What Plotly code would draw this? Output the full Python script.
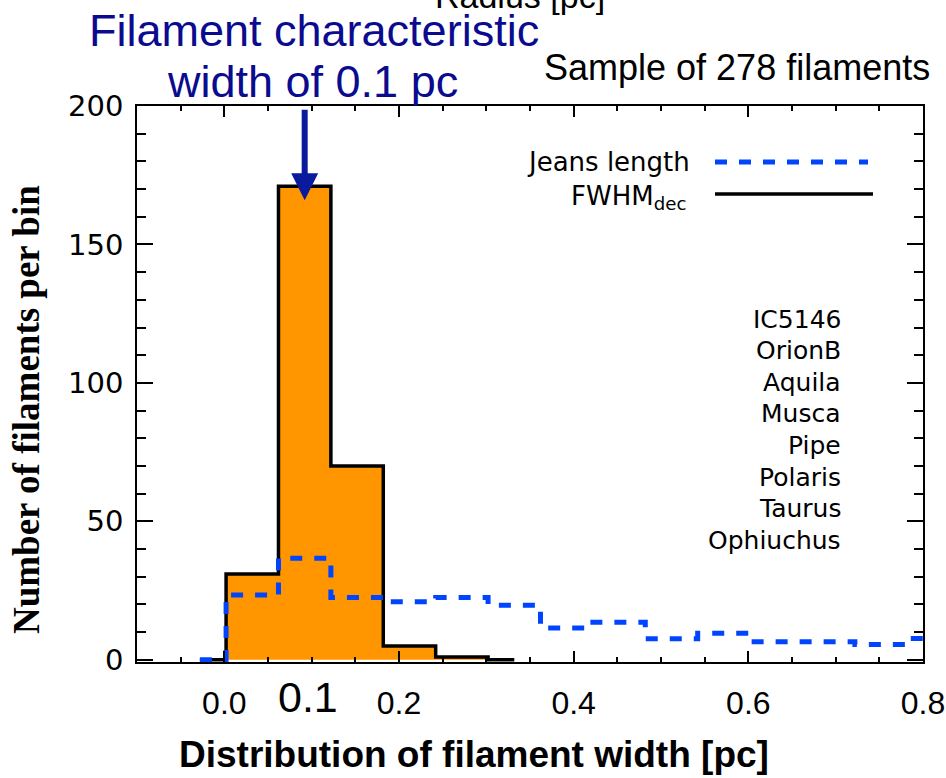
import plotly.graph_objects as go

# ---- data ----
fwhm_centers = [-0.028, 0.032, 0.092, 0.152, 0.212, 0.272, 0.332]
fwhm_counts = [0, 31, 171, 70, 5, 1, 0]

jeans_centers = [-0.028, 0.032, 0.092, 0.152, 0.212, 0.272, 0.332, 0.392,
                 0.452, 0.512, 0.572, 0.632, 0.692, 0.752, 0.812]
jeans_counts = [0, 23.4, 36.7, 22.5, 21.0, 22.5, 19.7, 11.5,
                13.6, 7.6, 9.6, 6.5, 6.5, 5.5, 7.7]

regions = ["IC5146", "OrionB", "Aquila", "Musca", "Pipe", "Polaris", "Taurus", "Ophiuchus"]
x_tick_vals = [0.0, 0.2, 0.4, 0.6, 0.8]
x_tick_text = ["0.0", "0.2", "0.4", "0.6", "0.8"]
y_tick_vals = [0, 50, 100, 150, 200]
peak_width = 0.1

ORANGE = "#FF9600"
BLUE = "#0044FF"
NAVY = "#0B0B8F"
ARROW = "#0A1A9C"

# plot area geometry (pixels) used for paper placement of texts
L, R, T, B = 137, 923, 106, 662
W, H = R - L, B - T


def px(xp):
    return (xp - L) / W


def py(yp):
    return (B - yp) / H


fig = go.Figure()

fig.add_trace(go.Scatter(
    x=fwhm_centers, y=fwhm_counts, mode="lines", line_shape="hvh",
    fill="tozeroy", fillcolor=ORANGE,
    line=dict(color="black", width=3.5), showlegend=False, hoverinfo="skip"))

fig.add_trace(go.Scatter(
    x=jeans_centers, y=jeans_counts, mode="lines", line_shape="hvh",
    line=dict(color=BLUE, width=5, dash="12px,12px"), showlegend=False,
    hoverinfo="skip"))

annotations = []
# titles
annotations.append(dict(text="Filament characteristic", xref="paper", yref="paper",
                        x=px(314), y=py(31), xanchor="center", yanchor="middle",
                        showarrow=False, font=dict(family="Liberation Sans", size=45, color=NAVY)))
annotations.append(dict(text="width of 0.1 pc", xref="paper", yref="paper",
                        x=px(312), y=py(81), xanchor="center", yanchor="middle",
                        showarrow=False, font=dict(family="Liberation Sans", size=45, color=NAVY)))
annotations.append(dict(text="Sample of 278 filaments", xref="paper", yref="paper",
                        x=px(737), y=py(67), xanchor="center", yanchor="middle",
                        showarrow=False, font=dict(family="Liberation Sans", size=36, color="black")))
annotations.append(dict(text="Radius [pc]", xref="paper", yref="paper",
                        x=px(433), y=py(-4), xanchor="left", yanchor="middle",
                        showarrow=False, font=dict(family="Liberation Sans", size=34, color="black")))
# arrow
annotations.append(dict(text="", x=0.092, y=166, xref="x", yref="y",
                        showarrow=True, ax=0, ay=-92, arrowhead=2, arrowsize=0.9,
                        arrowwidth=6, arrowcolor=ARROW, standoff=0))
# big 0.1 label
annotations.append(dict(text="0.1", xref="x", yref="paper", x=peak_width - 0.004, y=py(697),
                        xanchor="center", yanchor="middle", showarrow=False,
                        font=dict(family="Liberation Sans", size=43, color="black")))
# legend texts
annotations.append(dict(text="Jeans length", xref="paper", yref="paper",
                        x=px(692), y=py(162), xanchor="right", yanchor="middle",
                        showarrow=False, font=dict(family="DejaVu Sans", size=26, color="black")))
annotations.append(dict(text="FWHM<sub>dec</sub>", xref="paper", yref="paper",
                        x=px(688), y=py(197), xanchor="right", yanchor="middle",
                        showarrow=False, font=dict(family="DejaVu Sans", size=26, color="black")))
# region names
for i, name in enumerate(regions):
    annotations.append(dict(text=name, xref="paper", yref="paper",
                            x=px(843), y=py(319 + 31.6 * i), xanchor="right", yanchor="middle",
                            showarrow=False, font=dict(family="DejaVu Sans", size=25, color="black")))
# axis titles
annotations.append(dict(text="<b>Number of filaments per bin</b>", xref="paper", yref="paper",
                        x=px(27), y=py(410), xanchor="center", yanchor="middle", textangle=-90,
                        showarrow=False, font=dict(family="Liberation Serif", size=37, color="black")))
annotations.append(dict(text="<b>Distribution of filament width [pc]</b>", xref="paper", yref="paper",
                        x=px(474), y=py(754), xanchor="center", yanchor="middle",
                        showarrow=False, font=dict(family="Liberation Sans", size=37, color="black")))

shapes = [
    dict(type="line", xref="paper", yref="paper", x0=px(715), x1=px(868), y0=py(162), y1=py(162),
         line=dict(color=BLUE, width=5, dash="12px,12px")),
    dict(type="line", xref="paper", yref="paper", x0=px(715), x1=px(873), y0=py(194), y1=py(194),
         line=dict(color="black", width=3.5)),
]

fig.update_layout(
    width=946, height=778,
    margin=dict(l=L, r=946 - R, t=T, b=778 - B, autoexpand=False),
    paper_bgcolor="white", plot_bgcolor="white",
    annotations=annotations, shapes=shapes, showlegend=False,
)

fig.update_xaxes(
    range=[-0.1, 0.8], tickvals=x_tick_vals, ticktext=x_tick_text,
    ticks="inside", ticklen=11, tickwidth=1.5, tickcolor="black",
    showline=True, linecolor="black", linewidth=1.5, mirror="allticks",
    showgrid=False, zeroline=False, automargin=False,
    tickfont=dict(family="Liberation Sans", size=32, color="black"),
    ticklabelstandoff=12,
    minor=dict(tick0=0, dtick=0.05, ticks="inside", ticklen=5, tickwidth=1.5,
               tickcolor="black", showgrid=False),
)
fig.update_yaxes(
    range=[-0.8, 200], tickvals=y_tick_vals,
    ticks="inside", ticklen=16, tickwidth=1.5, tickcolor="black",
    showline=True, linecolor="black", linewidth=1.5, mirror="allticks",
    showgrid=False, zeroline=False, automargin=False,
    tickfont=dict(family="DejaVu Sans", size=29, color="black"),
    ticklabelstandoff=6,
    minor=dict(tick0=0, dtick=10, ticks="inside", ticklen=9, tickwidth=1.5,
               tickcolor="black", showgrid=False),
)

fig.write_html("out.html")
